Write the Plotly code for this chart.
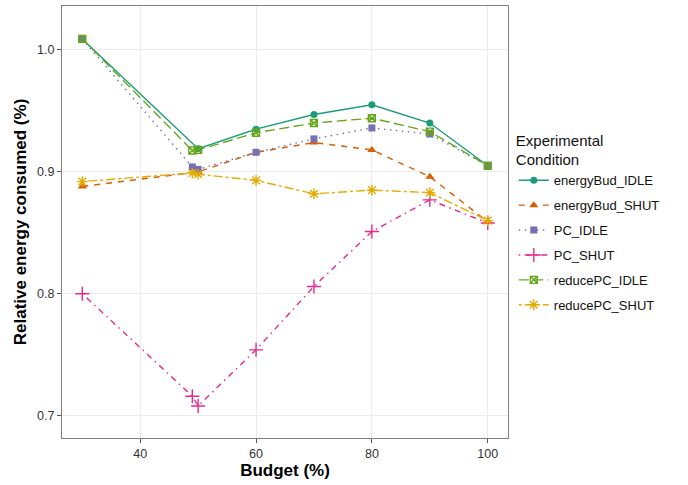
import plotly.graph_objects as go

# ---- data ----
budget_eb = [30, 50, 60, 70, 80, 90, 100]
budget_pc = [30, 49, 50, 60, 70, 80, 90, 100]

energyBud_IDLE = [1.009, 0.919, 0.935, 0.947, 0.955, 0.940, 0.905]
energyBud_SHUT = [0.888, 0.900, 0.916, 0.924, 0.918, 0.896, 0.859]
PC_IDLE = [1.009, 0.904, 0.902, 0.916, 0.927, 0.936, 0.931, 0.905]
PC_SHUT = [0.800, 0.716, 0.708, 0.754, 0.806, 0.851, 0.877, 0.858]
reducePC_IDLE = [1.009, 0.9175, 0.918, 0.932, 0.940, 0.944, 0.933, 0.905]
reducePC_SHUT = [0.892, 0.899, 0.898, 0.893, 0.882, 0.885, 0.883, 0.860]

series = [
    ("energyBud_IDLE", budget_eb, energyBud_IDLE, "#1B9E77", "solid", "circle"),
    ("energyBud_SHUT", budget_eb, energyBud_SHUT, "#D95F02", "6px,6px", "triangle-up"),
    ("PC_IDLE", budget_pc, PC_IDLE, "#7570B3", "1.5px,4.5px", "square"),
    ("PC_SHUT", budget_pc, PC_SHUT, "#E7298A", "1.5px,4.5px,6px,4.5px", "cross-thin-open"),
    ("reducePC_IDLE", budget_pc, reducePC_IDLE, "#66A61E", "10px,4.5px", "square-x-open"),
    ("reducePC_SHUT", budget_pc, reducePC_SHUT, "#E6AB02", "3px,3px,9px,3px", "asterisk-open"),
]

fig = go.Figure()
for name, xs, ys, col, dash, sym in series:
    open_sym = sym.endswith("open")
    size = 7
    if sym == "cross-thin-open":
        size = 10
    elif sym == "asterisk-open":
        size = 9
    elif sym == "triangle-up":
        size = 8
    fig.add_trace(go.Scatter(
        x=xs, y=ys, name=name, legendgroup=name, mode="lines+markers",
        line=dict(color=col, width=1.4, dash=dash),
        marker=dict(symbol=sym, color=col, size=size,
                    line=dict(color=col, width=1.4 if open_sym else 0)),
    ))

font_family = "Liberation Sans, Arial, sans-serif"
fig.update_layout(
    width=688, height=485,
    margin=dict(l=62, r=180, t=6, b=47),
    paper_bgcolor="white", plot_bgcolor="white",
    font=dict(family=font_family, color="#222"),
    legend=dict(
        title=dict(text="Experimental<br>Condition", font=dict(size=15, color="#111")),
        font=dict(size=13, color="#111"),
        x=1.013, xanchor="left", y=0.497, yanchor="middle",
        tracegroupgap=5, itemwidth=30,
        bgcolor="rgba(0,0,0,0)",
    ),
    xaxis=dict(
        range=[26.5, 103.5], tickvals=[40, 60, 80, 100],
        ticks="outside", ticklen=4, tickcolor="#555",
        tickfont=dict(size=12.5, color="#333"),
        showgrid=True, gridcolor="#EBEBEB", gridwidth=1,
        showline=True, linecolor="#7F7F7F", linewidth=1.2, mirror=True,
        zeroline=False,
        title=dict(text="<b>Budget (%)</b>", font=dict(size=17, color="#000"), standoff=4),
    ),
    yaxis=dict(
        range=[0.6817, 1.036], tickvals=[0.7, 0.8, 0.9, 1.0],
        ticktext=["0.7", "0.8", "0.9", "1.0"],
        ticks="outside", ticklen=4, tickcolor="#555",
        tickfont=dict(size=12.5, color="#333"),
        showgrid=True, gridcolor="#EBEBEB", gridwidth=1,
        showline=True, linecolor="#7F7F7F", linewidth=1.2, mirror=True,
        zeroline=False,
        title=dict(text="<b>Relative energy consumed (%)</b>", font=dict(size=17, color="#000"), standoff=6),
    ),
)

fig.write_html("out.html", config={"displayModeBar": False},
               post_script="document.body.style.margin='0';")
